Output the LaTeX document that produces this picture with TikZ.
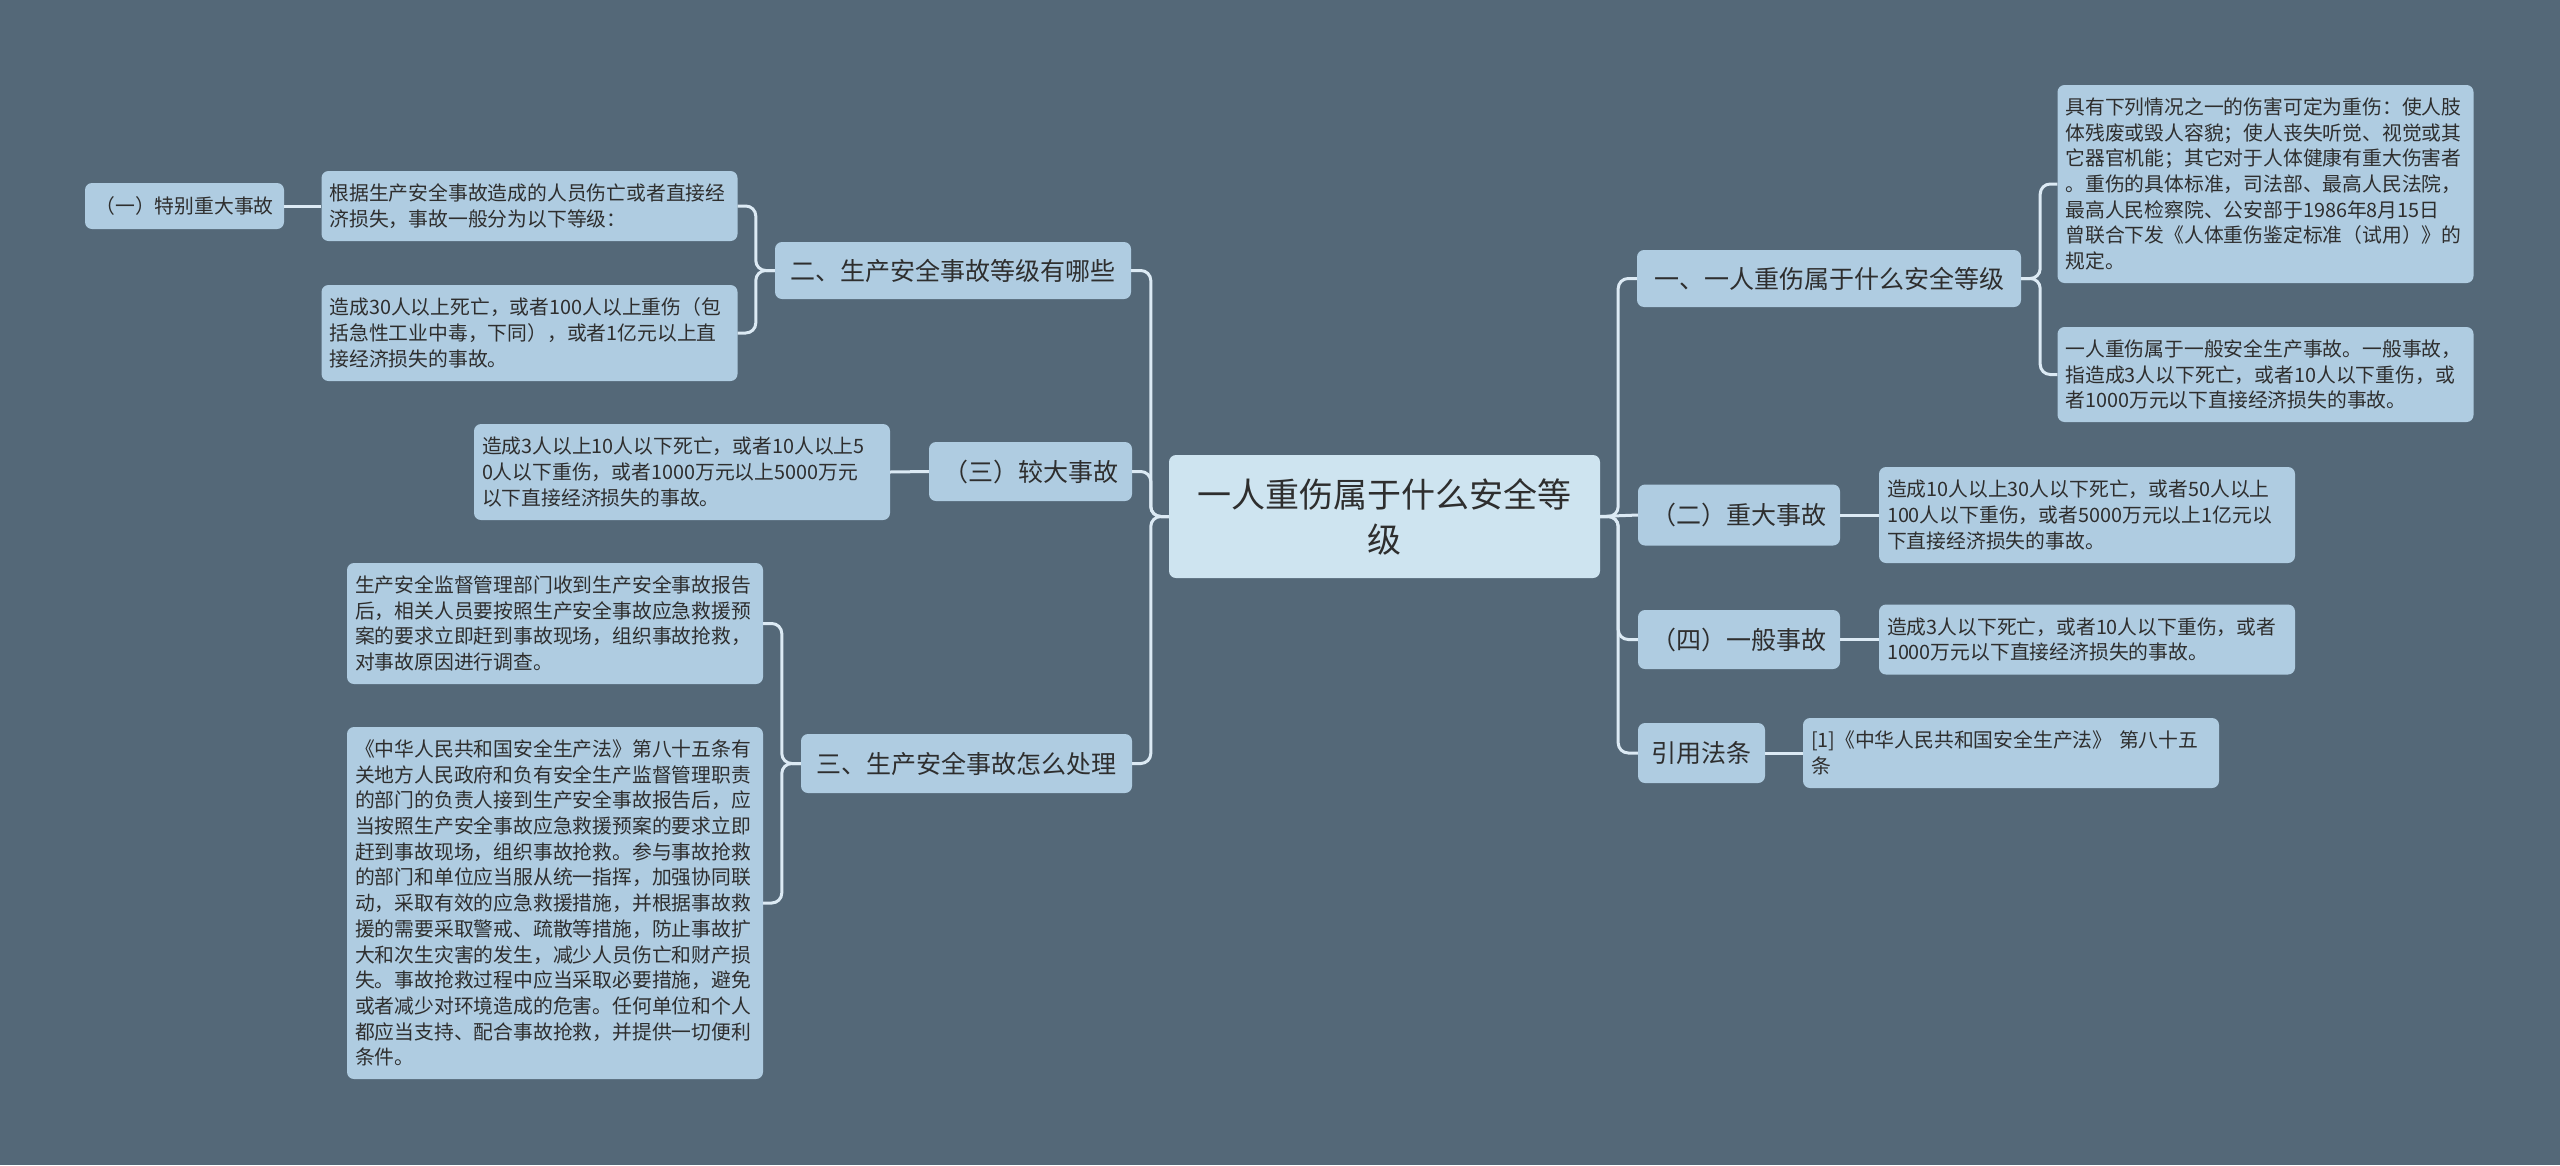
\documentclass[tikz,border=0pt]{standalone}
\usepackage{fontspec}
\setmainfont{Noto Sans CJK SC}
\definecolor{bg}{HTML}{546878}
\definecolor{leaffill}{HTML}{AFCCE1}
\definecolor{rootfill}{HTML}{CEE4F0}
\definecolor{linec}{HTML}{DCEAF4}
\definecolor{txt}{HTML}{2E2E2E}
\tikzset{
  box/.style={fill=leaffill, rounded corners=7pt, inner xsep=8pt, inner ysep=0pt, text=txt},
  rootbox/.style={box, fill=rootfill, font=\fontsize{34}{45}\selectfont, align=center},
  mainbox/.style={box, font=\fontsize{25}{30}\selectfont, align=center},
  leafbox/.style={box, font=\fontsize{19.8}{25.7}\selectfont, text width=400pt, align=left},
  smallbox/.style={box, font=\fontsize{19.8}{25.7}\selectfont, align=center},
  conn/.style={draw=linec, line width=3pt, rounded corners=10pt},
}
\begin{document}
\begin{tikzpicture}[x=1pt,y=-1pt]
\fill[bg] (0,0) rectangle (2560,1165);
\useasboundingbox (0,0) rectangle (2560,1165);

% root
\node[rootbox, minimum width=431pt, minimum height=123pt] (root) at (1384.5,516.5) {一人重伤属于什么安全等\\级};

% right side
\node[mainbox, minimum width=384pt, minimum height=57pt] (r1) at (1829,278.5) {一、一人重伤属于什么安全等级};
\node[leafbox, minimum height=198pt] (r1a) at (2265.5,184) {具有下列情况之一的伤害可定为重伤：使人肢\\体残废或毁人容貌；使人丧失听觉、视觉或其\\它器官机能；其它对于人体健康有重大伤害者\\。重伤的具体标准，司法部、最高人民法院，\\最高人民检察院、公安部于1986年8月15日\\曾联合下发《人体重伤鉴定标准（试用）》的\\规定。};
\node[leafbox, minimum height=95pt] (r1b) at (2265.5,374.5) {一人重伤属于一般安全生产事故。一般事故，\\指造成3人以下死亡，或者10人以下重伤，或\\者1000万元以下直接经济损失的事故。};

\node[mainbox, minimum width=202pt, minimum height=61pt] (r2) at (1739,515) {（二）重大事故};
\node[leafbox, minimum height=96pt] (r2a) at (2087,515) {造成10人以上30人以下死亡，或者50人以上\\100人以下重伤，或者5000万元以上1亿元以\\下直接经济损失的事故。};

\node[mainbox, minimum width=202pt, minimum height=59pt] (r4) at (1739,639.5) {（四）一般事故};
\node[leafbox, minimum height=70pt] (r4a) at (2087,639.5) {造成3人以下死亡，或者10人以下重伤，或者\\1000万元以下直接经济损失的事故。};

\node[mainbox, minimum width=127pt, minimum height=60pt] (rc) at (1701.5,753) {引用法条};
\node[leafbox, minimum height=70pt] (rca) at (2011,753) {[1]《中华人民共和国安全生产法》 第八十五\\条};

% left side
\node[mainbox, minimum width=356pt, minimum height=57pt] (l2) at (953,270.5) {二、生产安全事故等级有哪些};
\node[leafbox, minimum height=70pt] (l2a) at (529.5,206) {根据生产安全事故造成的人员伤亡或者直接经\\济损失，事故一般分为以下等级：};
\node[leafbox, minimum height=96pt] (l2b) at (529.5,333) {造成30人以上死亡，或者100人以上重伤（包\\括急性工业中毒，下同），或者1亿元以上直\\接经济损失的事故。};
\node[smallbox, minimum width=199pt, minimum height=46pt] (l2x) at (184.5,206) {（一）特别重大事故};

\node[mainbox, minimum width=203pt, minimum height=59pt] (l3) at (1030.5,471.5) {（三）较大事故};
\node[leafbox, minimum height=96pt] (l3a) at (682,472) {造成3人以上10人以下死亡，或者10人以上5\\0人以下重伤，或者1000万元以上5000万元\\以下直接经济损失的事故。};

\node[mainbox, minimum width=331pt, minimum height=59pt] (l4) at (966.5,763.5) {三、生产安全事故怎么处理};
\node[leafbox, minimum height=121pt] (l4a) at (555,623.5) {生产安全监督管理部门收到生产安全事故报告\\后，相关人员要按照生产安全事故应急救援预\\案的要求立即赶到事故现场，组织事故抢救，\\对事故原因进行调查。};
\node[leafbox, minimum height=352pt] (l4b) at (555,903) {《中华人民共和国安全生产法》第八十五条有\\关地方人民政府和负有安全生产监督管理职责\\的部门的负责人接到生产安全事故报告后，应\\当按照生产安全事故应急救援预案的要求立即\\赶到事故现场，组织事故抢救。参与事故抢救\\的部门和单位应当服从统一指挥，加强协同联\\动，采取有效的应急救援措施，并根据事故救\\援的需要采取警戒、疏散等措施，防止事故扩\\大和次生灾害的发生，减少人员伤亡和财产损\\失。事故抢救过程中应当采取必要措施，避免\\或者减少对环境造成的危害。任何单位和个人\\都应当支持、配合事故抢救，并提供一切便利\\条件。};

% connectors: right trunk
\draw[conn] (root.east) -- ++(18,0) |- (r1.west);
\draw[conn] (root.east) -- (r2.west);
\draw[conn] (root.east) -- ++(18,0) |- (r4.west);
\draw[conn] (root.east) -- ++(18,0) |- (rc.west);
\draw[conn] (r1.east) -- ++(19,0) |- (r1a.west);
\draw[conn] (r1.east) -- ++(19,0) |- (r1b.west);
\draw[conn] (r2.east) -- (r2a.west);
\draw[conn] (r4.east) -- (r4a.west);
\draw[conn] (rc.east) -- (rca.west);

% connectors: left trunk
\draw[conn] (root.west) -- ++(-18,0) |- (l2.east);
\draw[conn] (root.west) -- ++(-18,0) |- (l3.east);
\draw[conn] (root.west) -- ++(-18,0) |- (l4.east);
\draw[conn] (l2.west) -- ++(-19,0) |- (l2a.east);
\draw[conn] (l2.west) -- ++(-19,0) |- (l2b.east);
\draw[conn] (l2a.west) -- (l2x.east);
\draw[conn] (l3.west) -- (l3a.east);
\draw[conn] (l4.west) -- ++(-19,0) |- (l4a.east);
\draw[conn] (l4.west) -- ++(-19,0) |- (l4b.east);
\end{tikzpicture}
\end{document}
